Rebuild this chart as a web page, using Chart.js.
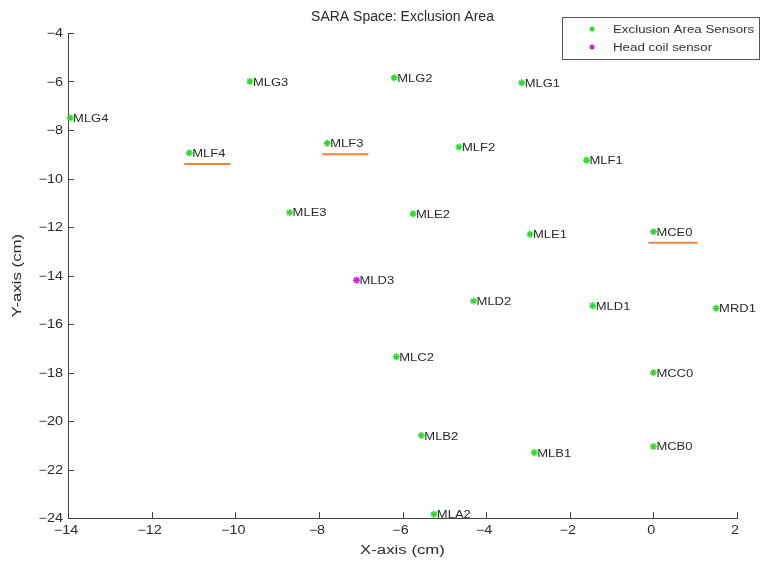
<!DOCTYPE html>
<html>
<head>
<meta charset="utf-8">
<script src="https://cdn.jsdelivr.net/npm/chart.js@4.4.1/dist/chart.umd.min.js"></script>
<style>
html,body{margin:0;padding:0;background:#fff;}
#wrap{width:762px;height:562px;}
</style>
</head>
<body>
<div id="wrap"><canvas id="c" width="762" height="562"></canvas></div>
<script>
// ---- data ----
const sensorNames = ["MLG4","MLG3","MLG2","MLG1","MLF4","MLF3","MLF2","MLF1","MLE3","MLE2","MLE1","MCE0","MLD2","MLD1","MRD1","MLC2","MCC0","MLB2","MLB1","MCB0","MLA2"];
const sensorX = [-13.95,-9.65,-6.2,-3.15,-11.1,-7.8,-4.65,-1.6,-8.7,-5.75,-2.95,0,-4.3,-1.45,1.5,-6.15,0,-5.55,-2.85,0,-5.25];
const sensorY = [-7.5,-6.0,-5.85,-6.05,-8.95,-8.55,-8.7,-9.25,-11.4,-11.45,-12.3,-12.2,-15.05,-15.25,-15.35,-17.35,-18.0,-20.6,-21.3,-21.05,-23.85];
const headNames = ["MLD3"];
const headX = [-7.1];
const headY = [-14.2];
const underlinedLabels = ["MLF4","MLF3","MCE0"];
const xTicks = [-14,-12,-10,-8,-6,-4,-2,0,2];
const yTicks = [-24,-22,-20,-18,-16,-14,-12,-10,-8,-6,-4];
const seriesNames = ["Exclusion Area Sensors","Head coil sensor"];
const chartTitle = "SARA Space: Exclusion Area";
const xTitle = "X-axis (cm)";
const yTitle = "Y-axis (cm)";

const GREEN = '#2edc2e';
const MAGENTA = '#d81ed8';
const TXT = '#2a2a2a';
const FONT = "'Liberation Sans', Arial, sans-serif";

const toPts = (xs, ys) => xs.map((x,i)=>({x:x, y:ys[i]}));
const fmt = v => String(v).replace('-', '\u2212');

function stretchText(ctx, text, x, y, sx, align){
  const w = ctx.measureText(text).width * sx;
  let x0 = x;
  if (align === 'center') x0 = x - w/2;
  else if (align === 'right') x0 = x - w;
  ctx.save();
  ctx.translate(x0, y);
  ctx.scale(sx, 1);
  ctx.textAlign = 'left';
  ctx.fillText(text, 0, 0);
  ctx.restore();
  return w;
}

const labelPlugin = {
  id:'pointLabels',
  afterDatasetsDraw(chart){
    const ctx = chart.ctx;
    ctx.save();
    ctx.font = '11px ' + FONT;
    ctx.textBaseline = 'middle';
    ctx.fillStyle = TXT;
    chart.data.datasets.forEach((ds, di)=>{
      const meta = chart.getDatasetMeta(di);
      meta.data.forEach((el, i)=>{
        const name = ds.names[i];
        const tx = el.x + 3, ty = el.y + 1;
        const w = stretchText(ctx, name, tx, ty, 1.18, 'left');
        if (underlinedLabels.includes(name)) {
          ctx.save();
          ctx.strokeStyle = '#f0843a';
          ctx.lineWidth = 2;
          ctx.beginPath();
          ctx.moveTo(el.x - 5, el.y + 11);
          ctx.lineTo(tx + w + 5, el.y + 11);
          ctx.stroke();
          ctx.restore();
        }
      });
    });
    ctx.restore();
  }
};

const decoPlugin = {
  id:'deco',
  afterDraw(chart){
    const ctx = chart.ctx;
    const ca = chart.chartArea;
    const xs = chart.scales.x, ys = chart.scales.y;
    ctx.save();
    // inward ticks
    ctx.strokeStyle = '#444';
    ctx.lineWidth = 1;
    ctx.beginPath();
    xTicks.forEach(v=>{
      const p = Math.round(xs.getPixelForValue(v)) + 0.5;
      ctx.moveTo(p, ca.bottom); ctx.lineTo(p, ca.bottom - 6);
    });
    yTicks.forEach(v=>{
      const p = Math.round(ys.getPixelForValue(v)) + 0.5;
      ctx.moveTo(ca.left, p); ctx.lineTo(ca.left + 6, p);
    });
    ctx.stroke();
    // tick labels
    ctx.fillStyle = TXT;
    ctx.font = '12px ' + FONT;
    ctx.textBaseline = 'middle';
    xTicks.forEach(v=>{
      stretchText(ctx, fmt(v), xs.getPixelForValue(v) - 2, ca.bottom + 13, 1.2, 'center');
    });
    yTicks.forEach(v=>{
      stretchText(ctx, fmt(v), ca.left - 5, ys.getPixelForValue(v) + 1, 1.2, 'right');
    });
    // axis titles
    ctx.font = '12px ' + FONT;
    stretchText(ctx, xTitle, (ca.left + ca.right)/2, 551, 1.4, 'center');
    ctx.save();
    ctx.translate(18, (ca.top + ca.bottom)/2);
    ctx.rotate(-Math.PI/2);
    stretchText(ctx, yTitle, 0, 0, 1.4, 'center');
    ctx.restore();
    // title
    ctx.font = '14px ' + FONT;
    stretchText(ctx, chartTitle, (ca.left + ca.right)/2, 17, 1.0, 'center');
    // legend box
    const bx = 562, by = 17, bw = 197, bh = 42;
    ctx.fillStyle = '#fff';
    ctx.fillRect(bx, by, bw, bh);
    ctx.strokeStyle = '#555';
    ctx.lineWidth = 1;
    ctx.strokeRect(bx + 0.5, by + 0.5, bw, bh);
    ctx.font = '10px ' + FONT;
    chart.data.datasets.forEach((ds, i)=>{
      const yy = by + 12 + i*18;
      ctx.fillStyle = ds.borderColor;
      ctx.beginPath();
      ctx.arc(bx + 30, yy, 2.5, 0, Math.PI*2);
      ctx.fill();
      ctx.fillStyle = '#333';
      stretchText(ctx, ds.label, bx + 51, yy + 1, 1.33, 'left');
    });
    ctx.restore();
  }
};

new Chart(document.getElementById('c'), {
  type:'scatter',
  data:{
    datasets:[
      {label:seriesNames[0], names:sensorNames, data:toPts(sensorX, sensorY),
       borderColor:GREEN, backgroundColor:GREEN, pointStyle:'star', pointRadius:3.5, borderWidth:1.5, clip:false},
      {label:seriesNames[1], names:headNames, data:toPts(headX, headY),
       borderColor:MAGENTA, backgroundColor:MAGENTA, pointStyle:'star', pointRadius:3.5, borderWidth:1.5, clip:false}
    ]
  },
  options:{
    responsive:false,
    animation:false,
    layout:{padding:{top:33, right:25, left:0, bottom:0}},
    plugins:{legend:{display:false}, title:{display:false}, tooltip:{enabled:false}},
    scales:{
      x:{
        type:'linear', min:-14, max:2,
        afterBuildTicks(s){ s.ticks = xTicks.map(v=>({value:v})); },
        ticks:{display:false},
        grid:{display:true, drawOnChartArea:false, drawTicks:false},
        border:{display:true, color:'#444', width:1},
        title:{display:false},
        afterFit(s){ s.height = 44; }
      },
      y:{
        type:'linear', min:-24, max:-4,
        afterBuildTicks(s){ s.ticks = yTicks.map(v=>({value:v})); },
        ticks:{display:false},
        grid:{display:true, drawOnChartArea:false, drawTicks:false},
        border:{display:true, color:'#444', width:1},
        title:{display:false},
        afterFit(s){ s.width = 68; }
      }
    }
  },
  plugins:[labelPlugin, decoPlugin]
});
</script>
</body>
</html>
